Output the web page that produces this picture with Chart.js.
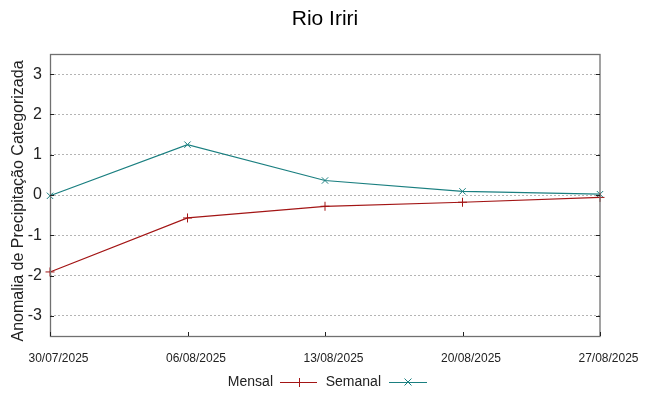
<!DOCTYPE html>
<html>
<head>
<meta charset="utf-8">
<script src="https://cdn.jsdelivr.net/npm/chart.js@4.4.1/dist/chart.umd.min.js"></script>
<style>
  html, body { margin: 0; padding: 0; background: #fff; }
  #wrap { width: 649px; height: 396px; }
</style>
</head>
<body>
<div id="wrap"><canvas id="chuva" width="649" height="396"></canvas></div>
<script>
// Datas e valores
const datas = ['30/07/2025', '06/08/2025', '13/08/2025', '20/08/2025', '27/08/2025'];
const mensal = [-1.91, -0.57, -0.28, -0.18, -0.06];
const semanal = [-0.02, 1.25, 0.36, 0.09, 0.02];
const yTicks = [-3, -2, -1, 0, 1, 2, 3];

const corMensal = '#a31515';
const corSemanal = '#1a7f80';
const fonte = '"Liberation Sans", Arial, sans-serif';

// Título, moldura, marcas internas e legenda à moda do gnuplot
const extras = {
    id: 'extras',
    afterDraw(chart) {
        const c = chart.ctx;
        const a = chart.chartArea;
        c.save();
        c.fillStyle = '#000';
        c.font = '21px ' + fonte;
        c.textAlign = 'center';
        c.textBaseline = 'middle';
        c.fillText('Rio Iriri', 325, 19);

        // título do eixo y
        c.save();
        c.translate(19, 201);
        c.rotate(-Math.PI / 2);
        c.fillStyle = '#222';
        c.font = '16px ' + fonte;
        c.fillText('Anomalia de Precipitação Categorizada', 0, 0);
        c.restore();

        c.strokeStyle = '#707070';
        c.lineWidth = 1.3;
        c.strokeRect(a.left + 0.5, a.top + 0.5, a.right - a.left - 0.5, a.bottom - a.top);

        // pequenas marcas
        const xs = chart.scales.x, ys = chart.scales.y;
        c.strokeStyle = '#222';
        c.lineWidth = 1;
        c.beginPath();
        datas.forEach((d, i) => {
            const px = Math.round(xs.getPixelForValue(i)) + 0.5;
            c.moveTo(px, a.bottom); c.lineTo(px, a.bottom - 4);
        });
        yTicks.forEach(v => {
            const py = Math.round(ys.getPixelForValue(v)) + 0.5;
            c.moveTo(a.left, py); c.lineTo(a.left + 4, py);
            c.moveTo(a.right, py); c.lineTo(a.right - 4, py);
        });
        c.stroke();

        // legenda
        c.font = '14px ' + fonte;
        c.textAlign = 'right';
        c.fillStyle = '#222';
        const ly = 382;
        const itens = [
            { txt: 'Mensal', xt: 273, x0: 280, x1: 317, cor: corMensal, m: 'plus' },
            { txt: 'Semanal', xt: 381, x0: 389, x1: 427, cor: corSemanal, m: 'x' }
        ];
        itens.forEach(it => {
            c.fillText(it.txt, it.xt, ly);
            c.strokeStyle = it.cor;
            c.beginPath();
            c.moveTo(it.x0, ly + 0.5); c.lineTo(it.x1, ly + 0.5);
            const cx = Math.round((it.x0 + it.x1) / 2);
            if (it.m === 'plus') {
                c.moveTo(cx + 0.5, ly - 4); c.lineTo(cx + 0.5, ly + 5);
            } else {
                c.moveTo(cx - 3.5, ly - 3.5); c.lineTo(cx + 3.5, ly + 3.5);
                c.moveTo(cx - 3.5, ly + 3.5); c.lineTo(cx + 3.5, ly - 3.5);
            }
            c.stroke();
        });
        c.restore();
    }
};

const ctx = document.getElementById('chuva').getContext('2d');
const grafico = new Chart(ctx, {
    type: 'line',
    data: {
        labels: datas,
        datasets: [{
            label: 'Mensal',
            data: mensal,
            borderColor: corMensal,
            backgroundColor: corMensal,
            borderWidth: 1.2,
            pointStyle: 'cross',
            pointRadius: 4.5,
            pointBorderWidth: 1,
            tension: 0
        }, {
            label: 'Semanal',
            data: semanal,
            borderColor: corSemanal,
            backgroundColor: corSemanal,
            borderWidth: 1.2,
            pointStyle: 'crossRot',
            pointRadius: 4.5,
            pointBorderWidth: 1,
            tension: 0
        }]
    },
    options: {
        responsive: false,
        animation: false,
        devicePixelRatio: 1,
        layout: { padding: { top: 54, right: 49, left: 0, bottom: 0 } },
        plugins: {
            legend: { display: false },
            title: { display: false },
            tooltip: { enabled: false }
        },
        scales: {
            x: {
                type: 'category',
                offset: false,
                grid: { display: false },
                border: { display: false },
                ticks: {
                    color: '#222',
                    font: { family: fonte, size: 12 },
                    padding: 7,
                    labelOffset: 8.5,
                    maxRotation: 0,
                    autoSkip: false
                },
                afterFit(s) { s.height = 60; }
            },
            y: {
                min: -3.5,
                max: 3.5,
                afterBuildTicks(s) { s.ticks = yTicks.map(v => ({ value: v })); },
                grid: {
                    color: '#b4b4b4',
                    lineWidth: 1,
                    drawTicks: false
                },
                border: { display: false, dash: [2, 2] },
                ticks: {
                    color: '#222',
                    font: { family: fonte, size: 16 },
                    padding: 8
                },
                afterFit(s) { s.width = 50; }
            }
        }
    },
    plugins: [extras]
});
</script>
</body>
</html>
